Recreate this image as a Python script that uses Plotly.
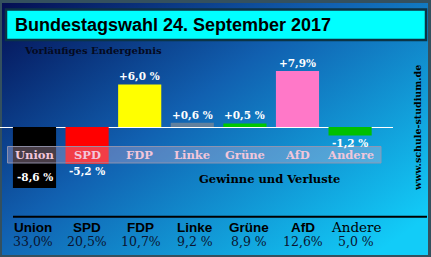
import base64
import plotly.graph_objects as go

# ---------------- data ----------------
parties = ["Union", "SPD", "FDP", "Linke", "Grüne", "AfD", "Andere"]
changes = [-8.6, -5.2, 6.0, 0.6, 0.5, 7.9, -1.2]
change_labels = ["-8,6 %", "-5,2 %", "+6,0 %", "+0,6 %", "+0,5 %", "+7,9%", "-1,2 %"]
shares = ["33,0%", "20,5%", "10,7%", "9,2 %", "8,9 %", "12,6%", "5,0 %"]
bar_colors = ["#000000", "#ff0000", "#ffff00", "#62819e", "#00c800", "#ff78c8", "#00c000"]
label_inside = [True, False, False, False, False, False, False]

title_text = "Bundestagswahl 24. September 2017"
subtitle_text = "Vorläufiges Endergebnis"
caption_text = "Gewinne und Verluste"
source_text = "www.schule-studium.de"

# ---------------- geometry helpers ----------------
W, H = 431, 257


def py(y):
    return 1 - y / H


def px(x):
    return x / W


zero_y = 127.0
ppu = 7.1  # pixels per percentage point
y_top = zero_y / ppu
y_bot = -(H - zero_y) / ppu

# main category axis: slot width ~52.6 px, first center at 34.5 px
slot = 52.6
left_edge = 34.5 - slot / 2
x_lo = -0.5 - left_edge / slot
x_hi = 6.5 + (393 - (left_edge + 7 * slot)) / slot

# bottom table axis
slot2 = 53.9
left2 = 33.0 - slot2 / 2
dom2 = [px(left2), px(left2 + 7 * slot2)]

# ---------------- background (gradient + frame) ----------------
svg = f"""<svg xmlns='http://www.w3.org/2000/svg' width='{W}' height='{H}' viewBox='0 0 {W} {H}' preserveAspectRatio='none'>
<defs><linearGradient id='g' x1='0' y1='0' x2='1' y2='0.85'>
<stop offset='0' stop-color='#040e52'/>
<stop offset='0.45' stop-color='#1160b0'/>
<stop offset='1' stop-color='#12ccf8'/>
</linearGradient></defs>
<rect x='0' y='0' width='{W}' height='{H}' fill='#34505e'/>
<rect x='2' y='3' width='{W-5}' height='{H-5}' fill='url(#g)'/>
</svg>"""
bg_uri = "data:image/svg+xml;base64," + base64.b64encode(svg.encode()).decode()

fig = go.Figure()

fig.add_trace(go.Bar(
    x=parties, y=changes,
    marker=dict(color=bar_colors, line=dict(width=0)),
    hoverinfo="skip",
    showlegend=False,
))

# invisible trace that registers the categories on the table axis
fig.add_trace(go.Scatter(
    x=parties, y=[0] * len(parties), xaxis="x2", yaxis="y2",
    mode="markers", marker=dict(opacity=0), hoverinfo="skip", showlegend=False,
))

shapes = [
    # title box
    dict(type="rect", xref="paper", yref="paper",
         x0=px(6), x1=px(426), y0=py(40), y1=py(9.5),
         fillcolor="#00ffff", line=dict(color="#0b3446", width=2.5), layer="above"),
    # translucent category band (above bars)
    dict(type="rect", xref="paper", yref="paper",
         x0=px(7.5), x1=px(381), y0=py(163), y1=py(146.5),
         fillcolor="rgba(215,185,215,0.33)", line=dict(color="rgba(150,150,175,0.9)", width=1),
         layer="above"),
    # bottom separator line
    dict(type="line", xref="paper", yref="paper",
         x0=px(13), x1=px(427), y0=py(216.8), y1=py(216.8),
         line=dict(color="#000000", width=2), layer="above"),
]

annotations = [
    dict(text=title_text, xref="paper", yref="paper", x=px(13), y=py(24.5),
         xanchor="left", yanchor="middle", showarrow=False,
         font=dict(family="Liberation Sans", size=18, color="#000000", weight="bold")),
    dict(text=subtitle_text, xref="paper", yref="paper", x=px(22), y=py(50.5),
         xanchor="left", yanchor="middle", showarrow=False,
         font=dict(family="DejaVu Serif", size=10, color="#050a20", weight="bold")),
    dict(text=caption_text, xref="paper", yref="paper", x=px(197), y=py(179),
         xanchor="left", yanchor="middle", showarrow=False,
         font=dict(family="DejaVu Serif", size=11.5, color="#000000", weight="bold")),
    dict(text=source_text, xref="paper", yref="paper", x=px(417), y=py(128),
         xanchor="center", yanchor="middle", showarrow=False, textangle=-90,
         font=dict(family="DejaVu Serif", size=9.5, color="#000000", weight="bold")),
]

# value labels, placed at each bar's end through the data axes
vfont = dict(family="DejaVu Serif", size=10.5, color="#ffffff", weight="bold")
for p, v, lab, inside in zip(parties, changes, change_labels, label_inside):
    if inside:
        anch, shift = "bottom", 3
    elif v >= 0:
        anch, shift = "bottom", 0
    else:
        anch, shift = "top", 1
    annotations.append(dict(
        text=lab, xref="x", yref="y", x=p, y=v, xanchor="center", yanchor=anch,
        yshift=shift, showarrow=False, font=vfont))

for p in parties:
    annotations.append(dict(
        text=p, xref="x", yref="paper", x=p, y=py(155),
        xanchor="center", yanchor="middle", showarrow=False,
        font=dict(family="DejaVu Serif", size=11.5, color="#f2c6da", weight="bold")))

for p, s in zip(parties, shares):
    if p == "Andere":
        nfont = dict(family="DejaVu Serif", size=13.5, color="#000000", weight="normal")
    else:
        nfont = dict(family="Liberation Sans", size=13.5, color="#000000", weight="bold")
    annotations.append(dict(
        text=p, xref="x2", yref="paper", x=p, y=py(227),
        xanchor="center", yanchor="middle", showarrow=False, font=nfont))
    annotations.append(dict(
        text=s, xref="x2", yref="paper", x=p, y=py(241),
        xanchor="center", yanchor="middle", showarrow=False,
        font=dict(family="DejaVu Serif", size=12.5, color="#0a1430")))

fig.update_layout(
    width=W, height=H,
    margin=dict(l=0, r=0, t=0, b=0, pad=0),
    paper_bgcolor="#34505e",
    plot_bgcolor="rgba(0,0,0,0)",
    bargap=0.18,
    showlegend=False,
    images=[dict(source=bg_uri, xref="paper", yref="paper", x=0, y=1,
                 sizex=1, sizey=1, xanchor="left", yanchor="top",
                 sizing="stretch", layer="below")],
    xaxis=dict(type="category", categoryorder="array", categoryarray=parties,
               range=[x_lo, x_hi], domain=[0, 393 / W],
               showticklabels=False, showgrid=False, zeroline=False, showline=False,
               ticks="", fixedrange=True),
    yaxis=dict(range=[y_bot, y_top], domain=[0, 1], showticklabels=False,
               showgrid=False, zeroline=True, zerolinecolor="#ffffff", zerolinewidth=1.2,
               showline=False, ticks="", fixedrange=True),
    xaxis2=dict(type="category", categoryorder="array", categoryarray=parties,
                range=[-0.5, 6.5], domain=dom2, anchor="y2", visible=False, fixedrange=True),
    yaxis2=dict(range=[-1, 1], domain=[0, 1], anchor="x2", visible=False, fixedrange=True),
    shapes=shapes,
    annotations=annotations,
)

fig.write_html("out.html")
